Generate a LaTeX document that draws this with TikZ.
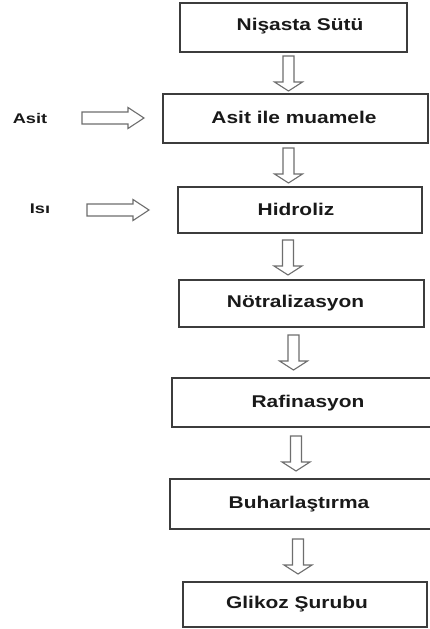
\documentclass[tikz,border=0pt]{standalone}
\usepackage{fontspec}
\newfontfamily\boxfont{Liberation Sans}[FakeStretch=1.23]
\newfontfamily\sidefont{Liberation Sans}[FakeStretch=1.3]
\usetikzlibrary{fit}
\definecolor{boxline}{RGB}{60,60,60}
\definecolor{arrowline}{RGB}{110,110,110}
\definecolor{ink}{RGB}{25,25,25}
\tikzset{
  x=1pt, y=-1pt,
  stepbox/.style={draw=boxline, line width=1.3pt, inner sep=0pt, rectangle},
  steptext/.style={anchor=base, inner sep=0pt, text=ink,
    font=\boxfont\bfseries\fontsize{17}{20}\selectfont},
  sidetext/.style={anchor=base, inner sep=0pt, text=ink,
    font=\sidefont\bfseries\fontsize{14}{17}\selectfont},
  blockarrow/.style={draw=arrowline, line width=1.1pt, fill=white, line join=miter},
  dnarrow/.pic={
    \draw[blockarrow] (-5.5,0) -- (-5.5,26) -- (-14,26) -- (0,35)
      -- (14,26) -- (5.5,26) -- (5.5,0) -- cycle;
  },
  rtarrow/.pic={
    \draw[blockarrow] (0,-6) -- (46,-6) -- (46,-10.5) -- (62,0)
      -- (46,10.5) -- (46,6) -- (0,6) -- cycle;
  }
}
\begin{document}
\begin{tikzpicture}
\useasboundingbox[fill=white] (0,0) rectangle (429,629);

% process steps
\node[stepbox, fit={(180,3) (407,52)}]   (b1) {};
\node[stepbox, fit={(163,94) (428,143)}] (b2) {};
\node[stepbox, fit={(178,187) (422,233)}] (b3) {};
\node[stepbox, fit={(179,280) (424,327)}] (b4) {};
\node[stepbox, fit={(172,378) (445,427)}] (b5) {};
\node[stepbox, fit={(170,479) (431,529)}] (b6) {};
\node[stepbox, fit={(183,582) (427,627)}] (b7) {};

\node[steptext] (t1) at (300,30)  {Nişasta Sütü};
\node[steptext] (t2) at (294,123) {Asit ile muamele};
\node[steptext] (t3) at (296,215) {Hidroliz};
\node[steptext] (t4) at (295.5,307) {Nötralizasyon};
\node[steptext] (t5) at (308,407) {Rafinasyon};
\node[steptext] (t6) at (299,508) {Buharlaştırma};
\node[steptext] (t7) at (297,608) {Glikoz Şurubu};

% flow arrows between steps
\pic (a1) at (288.5,56)  {dnarrow};
\pic (a2) at (288.5,148) {dnarrow};
\pic (a3) at (288,240)   {dnarrow};
\pic (a4) at (293.5,335) {dnarrow};
\pic (a5) at (296,436)   {dnarrow};
\pic (a6) at (298,539)   {dnarrow};

% inputs
\node[sidetext] (asit) at (30,123) {Asit};
\node[sidetext] (isi)  at (40,213) {Isı};
\pic (ra) at (82,118) {rtarrow};
\pic (ri) at (87,210) {rtarrow};
\end{tikzpicture}
\end{document}
